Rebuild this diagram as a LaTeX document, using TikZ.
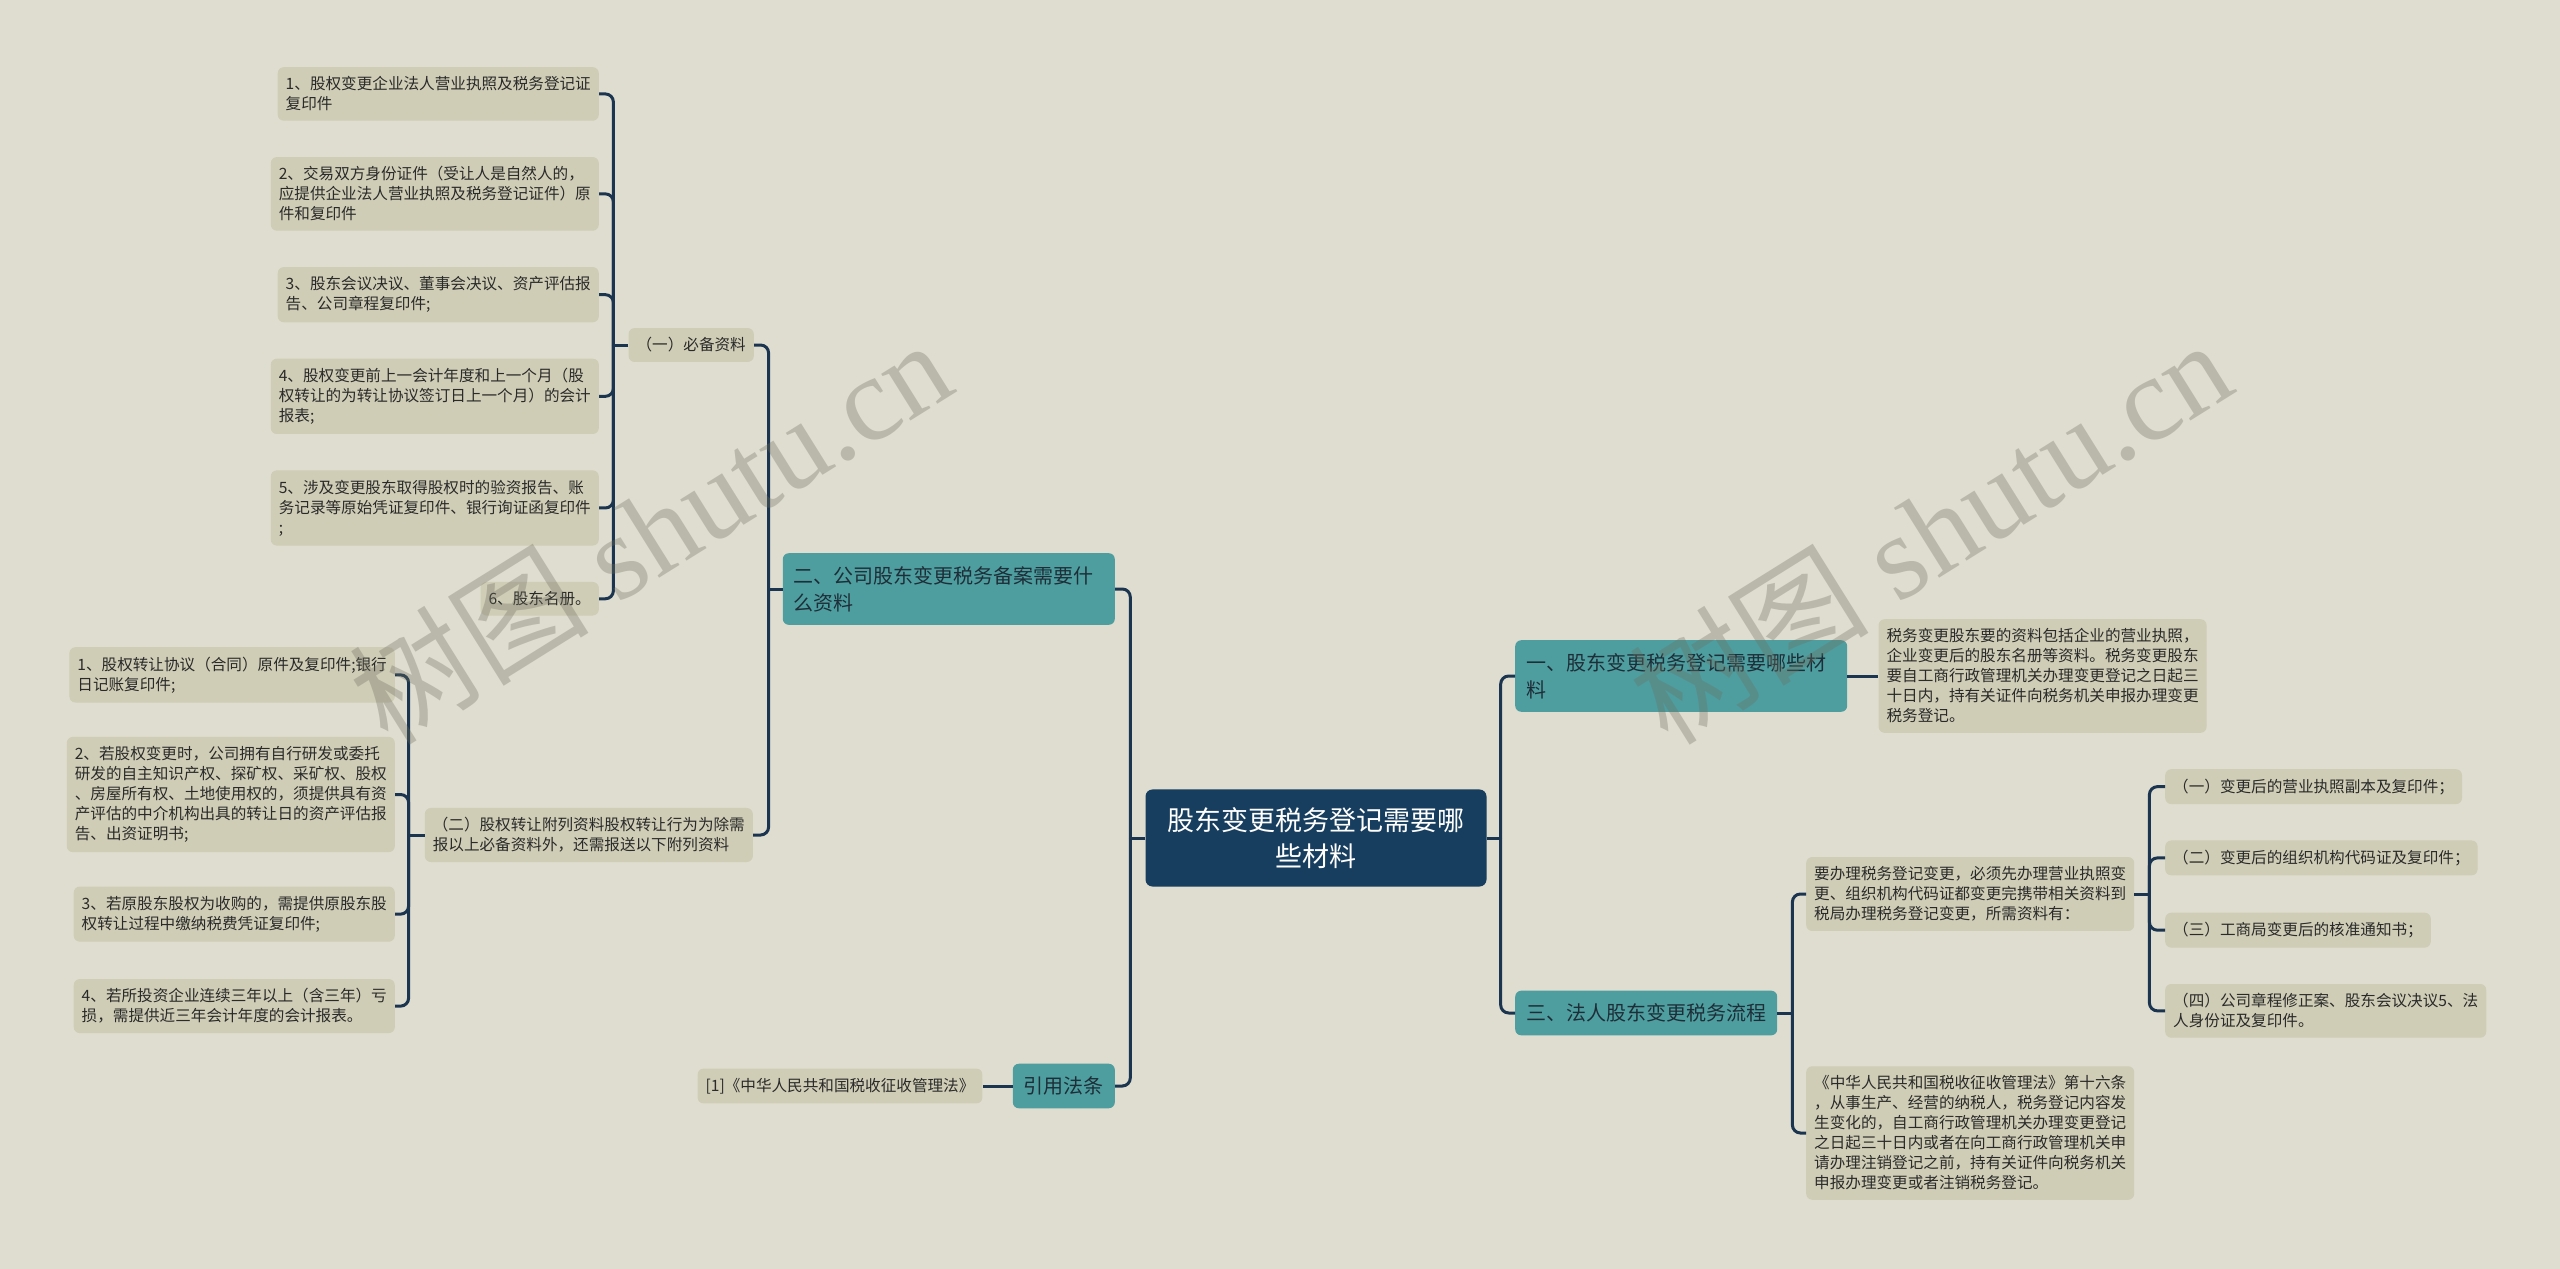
\documentclass[tikz,border=0pt]{standalone}
\usepackage{fontspec}
\newfontfamily\cjk{Noto Sans CJK SC}
\newfontfamily\wmserif{Liberation Serif}
\usetikzlibrary{positioning}
\definecolor{paper}{HTML}{DFDDCF}
\definecolor{leaffill}{HTML}{CFCDB6}
\definecolor{tealfill}{HTML}{4E9EA0}
\definecolor{rootfill}{HTML}{173E5F}
\definecolor{linkcol}{HTML}{1B3550}
\definecolor{inkcol}{HTML}{2A2A2A}
\definecolor{topicink}{HTML}{1E2E38}
\definecolor{wmcol}{HTML}{6E6E5F}
\tikzset{
	rootbox/.style={
		rectangle,
		rounded corners=7pt,
		fill=rootfill,
		text=white,
		font=\cjk\fontsize{27}{36}\selectfont,
		inner xsep=22pt,
		inner ysep=18pt,
		align=center},
	topicbox/.style={
		rectangle,
		rounded corners=6pt,
		fill=tealfill,
		text=topicink,
		font=\cjk\fontsize{20}{27}\selectfont,
		inner xsep=11pt,
		inner ysep=13pt,
		align=left},
	leafbox/.style={
		rectangle,
		rounded corners=6pt,
		fill=leaffill,
		text=inkcol,
		font=\cjk\fontsize{15.6}{20}\selectfont,
		inner xsep=8pt,
		inner ysep=9.5pt,
		align=left},
	link/.style={
		draw=linkcol,
		line width=3pt,
		rounded corners=8pt},
	watermark/.style={
		text=wmcol,
		text opacity=0.33,
		rotate=32,
		font=\wmserif\fontsize{120}{120}\selectfont}
}

\begin{document}
\begin{tikzpicture}[x=1pt, y=-1pt]
	\fill[paper] (0,0) rectangle (2560,1269);
	\useasboundingbox (0,0) rectangle (2560,1269);

	\node[rootbox] (root) at (1316,838) {股东变更税务登记需要哪\\些材料};

	% left half
	\node[topicbox, text width=310pt, anchor=east] (need) at (1115,589) {二、公司股东变更税务备案需要什\\么资料};
	\node[topicbox, anchor=east] (law) at (1115,1086) {引用法条};
	\node[leafbox, left=30pt of law] (lawref) {[1]《中华人民共和国税收征收管理法》};

	\node[leafbox, anchor=east] (must) at (754,345) {（一）必备资料};
	\node[leafbox, anchor=north east] (m1) at (599,67) {1、股权变更企业法人营业执照及税务登记证\\复印件};
	\node[leafbox, below left=36pt and 0pt of m1.south east] (m2) {2、交易双方身份证件（受让人是自然人的，\\应提供企业法人营业执照及税务登记证件）原\\件和复印件};
	\node[leafbox, below left=36pt and 0pt of m2.south east] (m3) {3、股东会议决议、董事会决议、资产评估报\\告、公司章程复印件;};
	\node[leafbox, below left=36pt and 0pt of m3.south east] (m4) {4、股权变更前上一会计年度和上一个月（股\\权转让的为转让协议签订日上一个月）的会计\\报表;};
	\node[leafbox, below left=36pt and 0pt of m4.south east] (m5) {5、涉及变更股东取得股权时的验资报告、账\\务记录等原始凭证复印件、银行询证函复印件\\;};
	\node[leafbox, below left=36pt and 0pt of m5.south east] (m6) {6、股东名册。};

	\node[leafbox, anchor=east] (attach) at (753,835) {（二）股权转让附列资料股权转让行为为除需\\报以上必备资料外，还需报送以下附列资料};
	\node[leafbox, anchor=north east] (a1) at (395,647) {1、股权转让协议（合同）原件及复印件;银行\\日记账复印件;};
	\node[leafbox, below left=34pt and 0pt of a1.south east] (a2) {2、若股权变更时，公司拥有自行研发或委托\\研发的自主知识产权、探矿权、采矿权、股权\\、房屋所有权、土地使用权的，须提供具有资\\产评估的中介机构出具的转让日的资产评估报\\告、出资证明书;};
	\node[leafbox, below left=34pt and 0pt of a2.south east] (a3) {3、若原股东股权为收购的，需提供原股东股\\权转让过程中缴纳税费凭证复印件;};
	\node[leafbox, below left=37pt and 0pt of a3.south east] (a4) {4、若所投资企业连续三年以上（含三年）亏\\损，需提供近三年会计年度的会计报表。};

	% right half
	\node[topicbox, text width=310pt, anchor=west] (what) at (1515,676) {一、股东变更税务登记需要哪些材\\料};
	\node[leafbox, right=31pt of what] (whatnote) {税务变更股东要的资料包括企业的营业执照，\\企业变更后的股东名册等资料。税务变更股东\\要自工商行政管理机关办理变更登记之日起三\\十日内，持有关证件向税务机关申报办理变更\\税务登记。};
	\node[topicbox, anchor=west] (flow) at (1515,1013) {三、法人股东变更税务流程};
	\node[leafbox, anchor=west] (steps) at (1806,894) {要办理税务登记变更，必须先办理营业执照变\\更、组织机构代码证都变更完携带相关资料到\\税局办理税务登记变更，所需资料有：};
	\node[leafbox, anchor=west] (article) at (1806,1133) {《中华人民共和国税收征收管理法》第十六条\\，从事生产、经营的纳税人，税务登记内容发\\生变化的，自工商行政管理机关办理变更登记\\之日起三十日内或者在向工商行政管理机关申\\请办理注销登记之前，持有关证件向税务机关\\申报办理变更或者注销税务登记。};
	\node[leafbox, anchor=north west] (s1) at (2165,769) {（一）变更后的营业执照副本及复印件；};
	\node[leafbox, below right=36pt and 0pt of s1.south west] (s2) {（二）变更后的组织机构代码证及复印件；};
	\node[leafbox, below right=37pt and 0pt of s2.south west] (s3) {（三）工商局变更后的核准通知书；};
	\node[leafbox, below right=36pt and 0pt of s3.south west] (s4) {（四）公司章程修正案、股东会议决议5、法\\人身份证及复印件。};

	% connectors
	\coordinate (rootL) at ([xshift=-15pt]root.west);
	\coordinate (rootR) at ([xshift=14pt]root.east);
	\coordinate (needL) at ([xshift=-14pt]need.west);
	\coordinate (mustL) at ([xshift=-15pt]must.west);
	\coordinate (attachL) at ([xshift=-16pt]attach.west);
	\coordinate (flowR) at ([xshift=15pt]flow.east);
	\coordinate (stepsR) at ([xshift=15pt]steps.east);

	\draw[link] (root.west) -- (rootL);
	\foreach \kid in {need,law} \draw[link] (rootL) |- (\kid.east);
	\draw[link] (law.west) -- (lawref.east);
	\draw[link] (need.west) -- (needL);
	\foreach \kid in {must,attach} \draw[link] (needL) |- (\kid.east);
	\draw[link] (must.west) -- (mustL);
	\foreach \kid in {m1,m2,m3,m4,m5,m6} \draw[link] (mustL) |- (\kid.east);
	\draw[link] (attach.west) -- (attachL);
	\foreach \kid in {a1,a2,a3,a4} \draw[link] (attachL) |- (\kid.east);

	\draw[link] (root.east) -- (rootR);
	\foreach \kid in {what,flow} \draw[link] (rootR) |- (\kid.west);
	\draw[link] (what.east) -- (whatnote.west);
	\draw[link] (flow.east) -- (flowR);
	\foreach \kid in {steps,article} \draw[link] (flowR) |- (\kid.west);
	\draw[link] (steps.east) -- (stepsR);
	\foreach \kid in {s1,s2,s3,s4} \draw[link] (stepsR) |- (\kid.west);

	% watermarks
	\node[watermark] (wmleft) at (650,530) {{\cjk 树图} shutu.cn};
	\node[watermark] (wmright) at (1930,530) {{\cjk 树图} shutu.cn};
\end{tikzpicture}
\end{document}
